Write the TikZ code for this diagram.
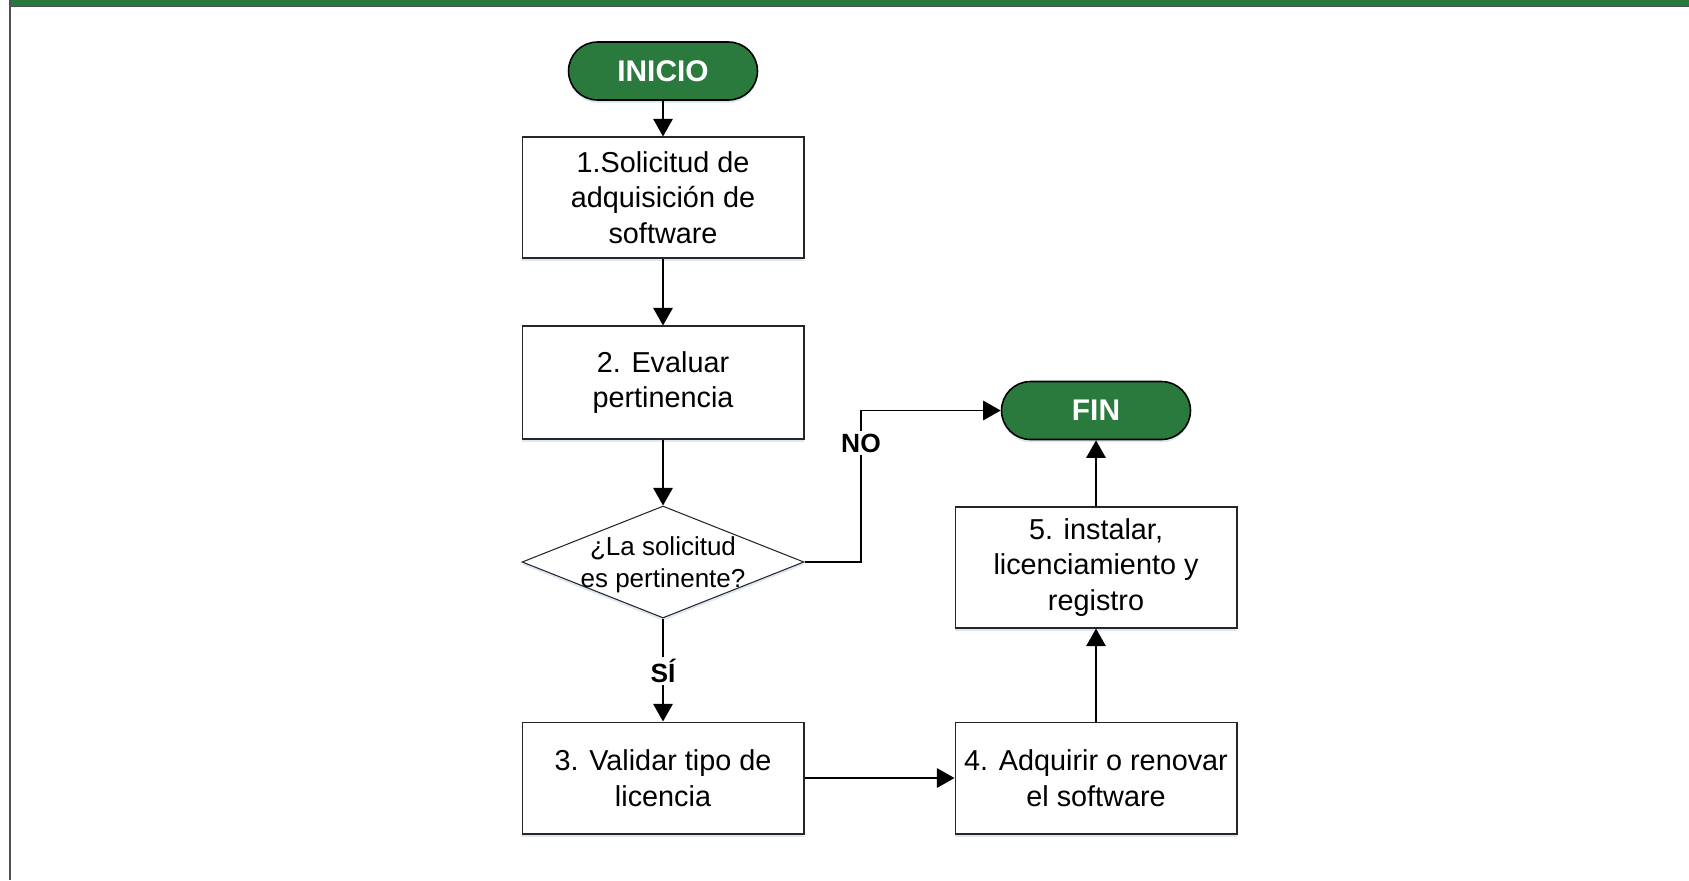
\documentclass[tikz,border=0pt]{standalone}
\usepackage{fontspec}
\setmainfont{Liberation Sans}
\usetikzlibrary{arrows.meta,shapes.geometric,shapes.misc,shadows}
\definecolor{vgreen}{RGB}{42,122,62}
\definecolor{bargreen}{RGB}{38,122,62}
\definecolor{edgegray}{RGB}{77,81,82}
\definecolor{shadowblue}{RGB}{214,226,242}
\begin{document}
\begin{tikzpicture}[x=0.02cm,y=-0.02cm,
  shad/.style={drop shadow={shadow xshift=0pt,shadow yshift=-1.6pt,fill=shadowblue,opacity=0.8}},
  proc/.style={draw=black!85,line width=0.6pt,fill=white,minimum width=5.64cm,
    align=center,font=\fontsize{16.4}{20.2}\selectfont,inner sep=0pt,shad},
  term/.style={rounded rectangle,draw=black,line width=0.9pt,fill=vgreen,
    minimum width=3.78cm,minimum height=1.16cm,text=white,
    font=\bfseries\fontsize{17}{20}\selectfont,inner sep=0pt,shad},
  dec/.style={diamond,draw=black!85,line width=0.6pt,fill=white,aspect=2.52,
    minimum width=5.64cm,minimum height=2.24cm,inner sep=0pt,shad},
  dectext/.style={align=center,inner sep=0pt,font=\fontsize{14.8}{18}\selectfont},
  arr/.style={-{Triangle[width=11pt,length=10pt]},line width=1.1pt},
  lbl/.style={fill=white,font=\bfseries\fontsize{15}{17}\selectfont,inner sep=1.5pt}]
\useasboundingbox (0,0) rectangle (1689,880);
% frame
\fill[bargreen] (11,0) rectangle (1689,6);
\draw[edgegray,line width=0.85pt] (11,6.7) -- (1689,6.7);
\fill[edgegray] (9,0) rectangle (11,880);
% nodes
\node[term] (inicio) at (663,71) {INICIO};
\node[proc,minimum height=2.42cm] (s1) at (663,197.5) {1.Solicitud de\\adquisición de\\software};
\node[proc,minimum height=2.26cm] (s2) at (663,382.5) {2. Evaluar\\pertinencia};
\node[dec] (d) at (663,562) {};
\node[dectext] (dt) at (663,565) {¿La solicitud\\es pertinente?};
\node[proc,minimum height=2.24cm] (s3) at (663,778) {3. Validar tipo de\\licencia};
\node[proc,minimum height=2.24cm] (s4) at (1096,778) {4. Adquirir o renovar\\el software};
\node[proc,minimum height=2.42cm] (s5) at (1096,567.5) {5. instalar,\\licenciamiento y\\registro};
\node[term] (fin) at (1096,410.5) {FIN};
% connectors
\draw[arr] (inicio) -- (s1);
\draw[arr] (s1) -- (s2);
\draw[arr] (s2) -- (d);
\draw[arr] (d.south) -- (s3.north);
\draw[arr] (s3) -- (s4);
\draw[arr] (s4) -- (s5);
\draw[arr] (s5) -- (fin);
\coordinate (nobend) at (861,562);
\draw[arr] (d.east) -- (nobend) |- (fin.west);
\node[lbl] (no) at (861,443) {NO};
\node[lbl] (si) at (663,671) {SÍ};
\end{tikzpicture}
\end{document}
